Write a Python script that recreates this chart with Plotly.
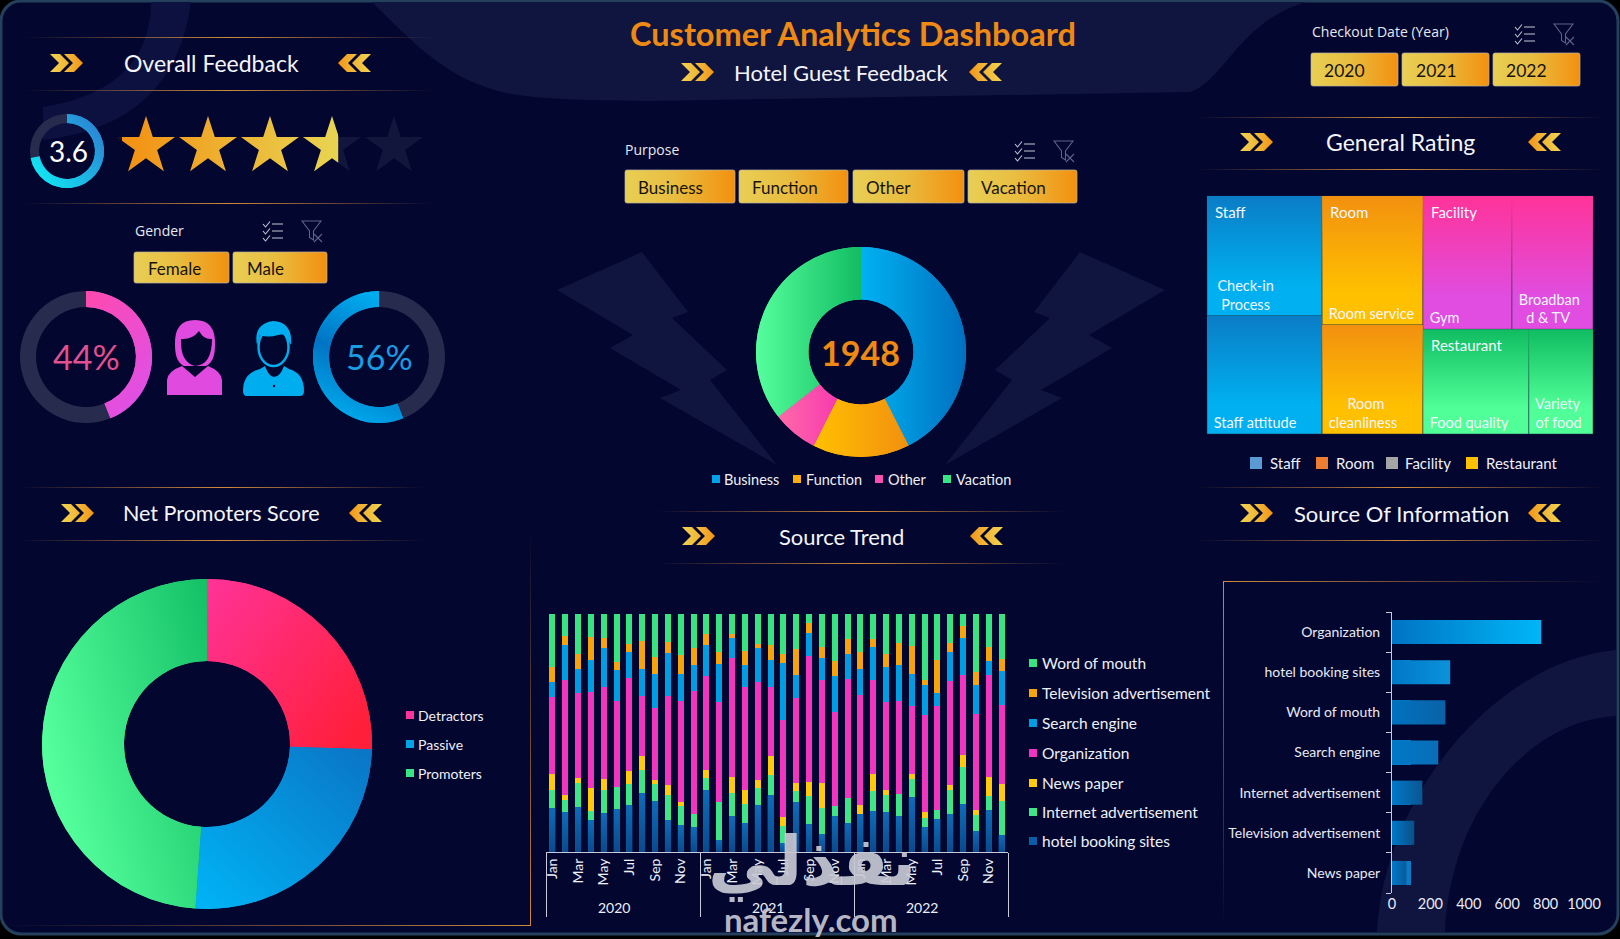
import base64
import math
import plotly.graph_objects as go

W, H = 1620, 939

# values
months = ['Jan', 'Feb', 'Mar', 'Apr', 'May', 'Jun', 'Jul', 'Aug', 'Sep', 'Oct', 'Nov', 'Dec']
years = ['2020', '2021', '2022']

# relative height of each stack part per month, drawn with barnorm percent
word_of_mouth = [159, 66, 120, 69, 72, 144, 90, 81, 129, 84, 123, 102, 60, 114, 60, 111, 90, 94, 120, 105, 27, 99, 141, 75, 114, 75, 120, 87, 96, 198, 138, 87, 36, 174, 99, 135]
television = [46, 28, 45, 69, 30, 24, 24, 85, 51, 34, 57, 51, 34, 36, 12, 42, 12, 44, 27, 78, 30, 33, 45, 45, 51, 24, 39, 66, 84, 15, 99, 27, 36, 39, 42, 36]
search_engine = [45, 104, 73, 96, 117, 93, 78, 80, 102, 128, 81, 79, 92, 114, 60, 66, 102, 81, 171, 69, 69, 66, 108, 75, 78, 99, 105, 108, 96, 90, 39, 87, 111, 87, 42, 102]
organization = [230, 344, 254, 288, 276, 258, 279, 180, 216, 267, 303, 368, 282, 300, 357, 309, 294, 207, 290, 255, 378, 309, 282, 357, 330, 282, 264, 279, 204, 291, 312, 312, 240, 288, 306, 237]
news_paper = [46, 14, 15, 69, 31, 0, 39, 42, 12, 30, 12, 0, 24, 0, 48, 42, 24, 57, 28, 24, 42, 75, 0, 0, 27, 51, 15, 0, 15, 17, 0, 15, 36, 15, 57, 51]
internet = [56, 38, 72, 27, 71, 66, 63, 69, 51, 75, 57, 39, 36, 114, 69, 57, 51, 60, 51, 33, 84, 78, 30, 75, 0, 60, 51, 66, 54, 28, 27, 72, 111, 48, 42, 102]
hotel_sites = [131, 119, 134, 95, 116, 128, 140, 176, 152, 95, 80, 74, 185, 35, 107, 86, 140, 170, 26, 149, 83, 53, 107, 86, 113, 122, 119, 107, 164, 74, 98, 113, 143, 62, 125, 50]

source_names = ['Organization', 'hotel booking sites', 'Word of mouth', 'Search engine', 'Internet advertisement', 'Television advertisement', 'News paper']
source_totals = [777, 303, 278, 241, 158, 116, 75]

rating = 3.6
rating_max = 5
gender_names = ['Female', 'Male']
gender_pct = [44, 56]

purpose_names = ['Business', 'Function', 'Other', 'Vacation']
purpose_counts = [828, 291, 136, 693]

nps_names = ['Detractors', 'Passive', 'Promoters']
nps_counts = [497, 499, 952]

rating_groups = ['Staff', 'Room', 'Facility', 'Restaurant']
# nbsp keeps the cell labels off the tile edge, as in the original
rating_labels = [
	['\u00a0\u00a0Check-in<br>\u00a0\u00a0\u00a0Process', '\u00a0Staff attitude'],
	['\u00a0Room service', '\u00a0\u00a0\u00a0\u00a0\u00a0\u00a0Room<br>\u00a0cleanliness'],
	['\u00a0Gym', '\u00a0Broadban<br>\u00a0\u00a0\u00a0d & TV'],
	['\u00a0Food quality', '\u00a0Variety<br>\u00a0of food'],
]
rating_values = [[1245, 1225], [1172, 991], [1071, 974], [999, 605]]

BG = '#03062f'
TRACK = '#272c4f'
FONT = 'Lato'


def px_x(x):
	return x / W


def px_y(y):
	return 1 - y / H


fig = go.Figure()
annotations = []


def note(x, y, text, size=14, color='#ffffff', anchor='left', family=FONT):
	annotations.append(dict(x=px_x(x), y=px_y(y), xref='paper', yref='paper', text=text, showarrow=False,
		xanchor=anchor, yanchor='middle', font=dict(family=family, size=size, color=color)))


# svg helpers for the dressing around the charts
defs = []
above = []
grad_count = [0]


def grad(stops, x1=0, y1=0, x2=1, y2=0, user=False):
	grad_count[0] += 1
	name = 'g%d' % grad_count[0]
	units = ' gradientUnits="userSpaceOnUse"' if user else ''
	body = ''.join('<stop offset="%s" stop-color="%s" stop-opacity="%s"/>' % (o, c, a) for o, c, a in stops)
	defs.append('<linearGradient id="%s" x1="%s" y1="%s" x2="%s" y2="%s"%s>%s</linearGradient>' % (name, x1, y1, x2, y2, units, body))
	return 'url(#%s)' % name


def rule(x0, x1, y):
	fill = grad([(0, '#c8853a', 0), (0.5, '#d08a3c', 1), (1, '#c8853a', 0)])
	above.append('<rect x="%s" y="%s" width="%s" height="1" fill="%s"/>' % (x0, y, x1 - x0, fill))


def chevrons(x, y, flip=False):
	# x, y = top left of a 33 x 18 pair
	one = 'M{0},{1} h10 l9,9 l-9,9 h-10 l9,-9 z'
	one_left = 'M{0},{1} h-10 l-9,9 l9,9 h10 l-9,-9 z'
	if not flip:
		above.append('<path d="%s" fill="%s"/>' % (one.format(x, y), grad([(0, '#f2d452', 1), (1, '#f0b232', 1)])))
		above.append('<path d="%s" fill="%s"/>' % (one.format(x + 14, y), grad([(0, '#f2c040', 1), (1, '#f39416', 1)])))
	else:
		above.append('<path d="%s" fill="%s"/>' % (one_left.format(x + 19, y), grad([(0, '#f39416', 1), (1, '#f2c040', 1)])))
		above.append('<path d="%s" fill="%s"/>' % (one_left.format(x + 33, y), grad([(0, '#f0b232', 1), (1, '#f2d452', 1)])))


def heading(text, x, y, x_left, x_right, size=23):
	note(x, y, text, size=size, color='#f4f5fb', anchor='center')
	chevrons(x_left, y - 9)
	chevrons(x_right, y - 9, True)


def button(x0, x1, y0, y1, text, text_x, size=17):
	fill = grad([(0, '#e8cf54', 1), (0.45, '#e9bd40', 1), (1, '#f3900f', 1)])
	above.append('<rect x="%s" y="%s" width="%s" height="%s" rx="2" fill="%s" stroke="#b9b6a6" stroke-width="0.7"/>' % (x0, y0, x1 - x0, y1 - y0, fill))
	note(text_x, (y0 + y1) / 2 + 1, text, size=size, color='#17130c')


def slicer_icons(x, y):
	# check list
	for i in range(3):
		yy = y + 1 + i * 7
		above.append('<path d="M%s,%s l2.5,3 l4.5,-5.5 M%s,%s h11" stroke="#c4c7d4" stroke-width="1.1" fill="none"/>' % (x, yy + 2, x + 9, yy + 2))
	# cleared funnel
	fx = x + 39
	above.append('<path d="M%s,%s h19 l-7.5,10 v9 l-4,-2.5 v-6.5 z M%s,%s l8,8 M%s,%s l-8,8" stroke="#5d6385" stroke-width="1.1" fill="none"/>' % (fx, y, fx + 12, y + 13, fx + 20, y + 13))


def star_path(cx, cy, r):
	pts = []
	for i in range(10):
		rad = r if i % 2 == 0 else r * 0.382
		a = math.pi * i / 5
		pts.append('%.1f,%.1f' % (cx + rad * math.sin(a), cy - rad * math.cos(a)))
	return 'M' + ' L'.join(pts) + ' Z'


def sector(cx, cy, r0, r1, a0, a1):
	p = lambda r, a: '%.2f,%.2f' % (cx + r * math.sin(a), cy - r * math.cos(a))
	big = 1 if abs(a1 - a0) > math.pi else 0
	return 'M%s A%s,%s 0 %d 1 %s L%s A%s,%s 0 %d 0 %s Z' % (p(r1, a0), r1, r1, big, p(r1, a1), p(r0, a1), r0, r0, big, p(r0, a0))


def donut(cx, cy, r1, r0, values, names, colors, shades):
	fig.add_trace(go.Pie(labels=names, values=values, hole=r0 / r1, sort=False, direction='clockwise',
		rotation=0, textinfo='none', hoverinfo='label+value', showlegend=False,
		marker=dict(colors=colors, line=dict(width=0)),
		domain=dict(x=[px_x(cx - r1), px_x(cx + r1)], y=[px_y(cy + r1), px_y(cy - r1)])))
	total = sum(values)
	a = 0
	for v, shade in zip(values, shades):
		step = 2 * math.pi * v / total
		if shade:
			above.append('<path d="%s" fill="%s"/>' % (sector(cx, cy, r0, r1, a, a + step), shade))
		a += step


# top level numbers
note(853, 33, '<b>Customer Analytics Dashboard</b>', size=32.5, color='#ee8a14', anchor='center')
heading('Hotel Guest Feedback', 841, 72, 681, 969, size=22)
heading('Overall Feedback', 211, 63, 50, 338)
heading('Net Promoters Score', 221, 513, 61, 349, size=21.5)
heading('Source Trend', 842, 536, 682, 970, size=22)
heading('General Rating', 1400, 142, 1240, 1528)
heading('Source Of Information', 1401, 513, 1240, 1528, size=22)

for x0, x1, y in [(24, 434, 37), (24, 434, 90), (24, 434, 203), (18, 425, 487), (18, 425, 540), (657, 1064, 511), (657, 1064, 563),
		(1196, 1605, 117), (1196, 1605, 169), (1196, 1605, 487), (1196, 1605, 540)]:
	rule(x0, x1, y)

# panel corners
above.append('<rect x="530" y="527" width="1" height="398" fill="%s"/>' % grad([(0, '#c8853a', 0), (1, '#d08a3c', 1)], 0, 0, 0, 1))
above.append('<rect x="0" y="925" width="531" height="1" fill="%s"/>' % grad([(0, '#c8853a', 0), (1, '#d08a3c', 1)]))
above.append('<rect x="1223" y="581" width="380" height="1" fill="%s"/>' % grad([(0, '#d08a3c', 1), (1, '#c8853a', 0)]))
above.append('<rect x="1223" y="581" width="1" height="344" fill="%s"/>' % grad([(0, '#d08a3c', 1), (1, '#c8853a', 0)], 0, 0, 0, 1))

# stars and gauge
star_cx = [146, 208, 270, 332, 394]
for cx in star_cx:
	above.append('<path d="%s" fill="#12163c"/>' % star_path(cx, 146.5, 30.5))
clip_x = 115 + 310 * rating / rating_max
defs.append('<clipPath id="starclip"><rect x="122" y="100" width="%.1f" height="90"/></clipPath>' % (clip_x - 122))
star_fill = grad([(0, '#f39012', 1), (1, '#e8d552', 1)], 122, 0, clip_x, 0, True)
for cx in star_cx:
	above.append('<path d="%s" fill="%s" clip-path="url(#starclip)"/>' % (star_path(cx, 146.5, 30.5), star_fill))

donut(67, 151, 37, 28, [rating, rating_max - rating], ['Rating', 'Rest'], ['#1a9ee0', TRACK],
	[grad([(0, '#0df4f8', 1), (1, '#2a86d4', 1)], 0, 1, 1, 0.3), None])
note(68, 151, str(rating), size=28, anchor='center')

# gender
note(133, 230, 'Gender', size=14, color='#e8e9f0', family='Open Sans')
slicer_icons(263, 221)
button(134, 229, 252, 283, gender_names[0], 146)
button(233, 327, 252, 283, gender_names[1], 245)

donut(86, 357, 66, 50, [gender_pct[0], gender_pct[1]], ['Female', 'Male'], ['#ea4fd0', TRACK],
	[grad([(0, '#ff4aae', 1), (1, '#df50e6', 1)], 0, 0, 0.6, 1), None])
# the male ring runs anticlockwise from the top, so its empty part comes first
donut(379, 357, 66, 50, [gender_pct[0], gender_pct[1]], ['Female', 'Male'], [TRACK, '#0090d8'],
	[None, grad([(0, '#00aef0', 1), (0.5, '#0074c4', 1), (1, '#00aef0', 1)], 0.3, 1, 0.6, 0)])
note(86, 357, '%d%%' % gender_pct[0], size=34, color='#e2508f', anchor='center')
note(379, 357, '%d%%' % gender_pct[1], size=34, color='#1a9ce2', anchor='center')

# people icons
above.append('<path d="M175,345 Q174,320 195,320 Q216,320 215,345 Q215,362 206,366 L184,366 Q175,362 175,345 Z" fill="#e04adf"/>')
above.append('<path d="M181,339 Q192,340 199,331 Q204,340 212,339 Q212,365 195,366 Q180,362 181,339 Z" fill="%s"/>' % BG)
above.append('<path d="M167,395 V380 Q168,371 182,366 L195,377 L208,366 Q221,371 222,380 V395 Z" fill="#e04adf"/>')
above.append('<ellipse cx="273.5" cy="347" rx="15" ry="19" fill="%s" stroke="#00aef0" stroke-width="2.4"/>' % BG)
above.append('<path d="M257,345 Q253,324 273,321 Q293,322 291,345 L288,340 Q286,333 278,335 Q268,338 260,335 Z" fill="#00aef0"/>')
above.append('<path d="M243,391 Q243,373 260,369 L265,366 Q269,377 274,377 Q280,377 284,366 L289,369 Q304,373 304,391 Q304,396 300,396 H247 Q243,396 243,391 Z" fill="#00aef0"/>')
above.append('<circle cx="274" cy="386" r="1.2" fill="%s"/>' % BG)

# purpose
note(623, 149, 'Purpose', size=14, color='#e8e9f0', family='Open Sans')
slicer_icons(1015, 141)
for (x0, x1), name, text_x in zip([(625, 735), (739, 848), (853, 964), (968, 1077)], purpose_names, [636, 750, 864, 979]):
	button(x0, x1, 170, 203, name, text_x)

donut(861, 352, 105, 52.5, purpose_counts, purpose_names, ['#0094dc', '#fbab0c', '#fb4fa8', '#38e080'], [
	grad([(0, '#00b2f2', 1), (1, '#0070c0', 1)]),
	grad([(0, '#ffc000', 1), (1, '#f2900f', 1)]),
	grad([(0, '#ff6aa8', 1), (1, '#f73ab0', 1)]),
	grad([(0, '#55ff9c', 1), (1, '#12bc62', 1)]),
])
note(861, 352, '<b>%d</b>' % sum(purpose_counts), size=34, color='#ee8a14', anchor='center')

legend_colors = ['#00a2e8', '#fdae0c', '#fb4fb0', '#38e584']
for name, color, sq_x, tx in zip(purpose_names, legend_colors, [712, 793, 875, 943], [722, 804, 886, 954]):
	above.append('<rect x="%s" y="475" width="8" height="8" fill="%s"/>' % (sq_x, color))
	note(tx, 479, name, size=14.5, color='#eef0f8')

# net promoters
donut(207, 744, 165, 83, nps_counts, nps_names, ['#ff2e78', '#0094dc', '#38e080'], [
	grad([(0, '#ff3399', 1), (1, '#ff1f3a', 1)], 0, 0, 1, 0.8),
	grad([(0, '#00b4f6', 1), (1, '#0a74c4', 1)], 0, 1, 1, 0),
	grad([(0, '#55ff9c', 1), (1, '#14c066', 1)], 0, 0.5, 1, 0),
])
for name, color, y in zip(nps_names, ['#ff3399', '#00a2e8', '#38e584'], [715, 744, 773]):
	above.append('<rect x="406" y="%s" width="8" height="8" fill="%s"/>' % (y - 4, color))
	note(416, y, name, size=14, color='#eef0f8')

# source trend, stacked per month
x_years = [y for y in years for _ in months]
x_months = [m for _ in years for m in months]
stack = [
	('hotel booking sites', hotel_sites, '#0b5ca6'),
	('Internet advertisement', internet, '#3fe687'),
	('News paper', news_paper, '#ffca0a'),
	('Organization', organization, '#f235c0'),
	('Search engine', search_engine, '#009de2'),
	('Television advertisement', television, '#f6a40c'),
	('Word of mouth', word_of_mouth, '#38e380'),
]
for name, values, color in stack:
	fig.add_trace(go.Bar(x=[x_years, x_months], y=values, name=name, marker=dict(color=color, line=dict(width=0)), showlegend=False))

# bottom part darkens towards the axis
hotel_fill = grad([(0, '#0d6cb8', 1), (1, '#0a4a8c', 1)], 0, 0, 0, 1)
for i, v in enumerate(hotel_sites):
	h = 238 * v / sum(s[1][i] for s in stack)
	above.append('<rect x="%.1f" y="%.1f" width="6" height="%.1f" fill="%s"/>' % (546 + (i + 0.5) * 462 / 36 - 3, 852 - h, h, hotel_fill))

legend_y = [663, 693, 723, 753, 783, 812, 841]
for (name, values, color), y in zip(reversed(stack), legend_y):
	above.append('<rect x="1029" y="%s" width="8" height="8" fill="%s"/>' % (y - 4, color))
	note(1040, y, name, size=15.5, color='#eef0f8')

# source of information
bar_colors = [('#0074c4', '#00b6f7'), ('#0078c8', '#0b92da'), ('#0072c0', '#0a62a6'), ('#0078c8', '#0a6db6'),
	('#0078c8', '#0a5692'), ('#0078c8', '#0a4f88'), ('#0078c8', '#0a5a9a')]
bar_y = list(range(len(source_names)))
fig.add_trace(go.Bar(x=source_totals, y=bar_y, orientation='h', width=0.6, xaxis='x2', yaxis='y2', showlegend=False,
	marker=dict(color='#0a7cc6', line=dict(width=0)), name='Source'))
for i, v in enumerate(source_totals):
	fig.add_trace(go.Scatter(x=[0, v, v, 0, 0], y=[i - 0.3, i - 0.3, i + 0.3, i + 0.3, i - 0.3], xaxis='x2', yaxis='y2', mode='lines',
		line=dict(width=0), fill='toself', hoverinfo='skip', showlegend=False,
		fillgradient=dict(type='horizontal', colorscale=[[0, bar_colors[i][0]], [1, bar_colors[i][1]]])))

# general rating, one treemap per group so the columns sit like the original
tm_x, tm_y, tm_w, tm_h = 1207, 196, 386, 238
group_totals = [sum(v) for v in rating_values]
grand = sum(group_totals)
staff_w = tm_w * group_totals[0] / grand
room_w = tm_w * group_totals[1] / grand
right_w = tm_w - staff_w - room_w
fac_h = tm_h * group_totals[2] / (group_totals[2] + group_totals[3])
tiles = [
	(tm_x, tm_y, staff_w, tm_h),
	(tm_x + staff_w, tm_y, room_w, tm_h),
	(tm_x + staff_w + room_w, tm_y, right_w, fac_h),
	(tm_x + staff_w + room_w, tm_y + fac_h, right_w, tm_h - fac_h),
]
tile_colors = [('#00b0f0', '#0a7dc6'), ('#ffc000', '#f2900f'), ('#e04de0', '#ff3399'), ('#50ff98', '#0fbc60')]
for i, (x, y, w, h) in enumerate(tiles):
	fig.add_trace(go.Treemap(labels=rating_labels[i], parents=['', ''], values=rating_values[i], branchvalues='remainder', sort=True,
		textinfo='label', textposition='bottom left', textfont=dict(family=FONT, size=14.5, color='#f2f6ff'), hoverinfo='label+value',
		tiling=dict(packing='squarify', pad=0), pathbar=dict(visible=False),
		marker=dict(colors=[tile_colors[i][0]] * 2, pad=dict(t=0, l=0, r=0, b=0), line=dict(width=0.5, color='#20283f')),
		domain=dict(x=[px_x(x), px_x(x + w)], y=[px_y(y + h), px_y(y)])))
	note(x + 6, y + 16, rating_groups[i], size=15, color='#f2f6ff')
	# each cell goes from the darker tone at its top into the base colour
	share = rating_values[i][0] / sum(rating_values[i])
	shade = grad([(0, tile_colors[i][1], 1), (0.75, tile_colors[i][1], 0)], 0, 0, 0, 1)
	if i < 2:
		cells = [(x, y, w, h * share), (x, y + h * share, w, h * (1 - share))]
	else:
		cells = [(x, y, w * share, h), (x + w * share, y, w * (1 - share), h)]
	for cx, cy, cw, ch in cells:
		above.append('<rect x="%.1f" y="%.1f" width="%.1f" height="%.1f" fill="%s"/>' % (cx, cy, cw, ch, shade))

for name, color, sq_x, tx in zip(rating_groups, ['#5b9bd5', '#ed7d31', '#a5a5a5', '#ffc000'], [1250, 1316, 1386, 1466], [1268, 1334, 1403, 1484]):
	above.append('<rect x="%s" y="457" width="12" height="12" fill="%s"/>' % (sq_x, color))
	note(tx, 463, name, size=15, color='#eef0f8')

# year slicer
note(1310, 32, 'Checkout Date (Year)', size=14, color='#e8e9f0', family='Open Sans')
slicer_icons(1515, 24)
for (x0, x1), name, text_x in zip([(1311, 1398), (1402, 1489), (1493, 1580)], years, [1322, 1414, 1504]):
	button(x0, x1, 53, 86, name, text_x, size=17.5)

# nafezly mark over the bottom of the chart
note(812, 862, '<b>نفذلي</b>', size=68, color='rgba(200,201,212,0.92)', anchor='center', family='DejaVu Sans')
note(811, 919, '<b>nafezly.com</b>', size=33, color='rgba(200,201,212,0.92)', anchor='center')

# page background: frame, header blob, arcs and the two bolts
left_bolt = [(557, 290), (642, 252), (688, 312), (672, 318), (727, 370), (710, 380), (777, 465), (660, 398), (681, 390), (610, 348), (633, 335)]
right_bolt = [(1722 - x, y) for x, y in left_bolt]
bolt = lambda pts: 'M' + ' L'.join('%s,%s' % p for p in pts) + ' Z'
below = [
	'<rect x="1" y="1" width="1617" height="933" rx="20" fill="%s" stroke="#25405c" stroke-width="3"/>' % BG,
	'<path d="M372,2 C410,40 440,70 480,85 C510,97 540,100 650,101 L1190,92 C1225,80 1240,20 1307,2 Z" fill="#101540"/>',
	'<path d="M151,2 Q150,90 43,107 L43,140 Q175,125 191,2 Z" fill="#0d1140"/>',
	'<path d="M1377,932 C1385,790 1500,660 1616,650 L1616,716 C1530,720 1450,810 1445,932 Z" fill="#101540"/>',
	'<path d="%s" fill="#101540"/>' % bolt(left_bolt),
	'<path d="%s" fill="#101540"/>' % bolt(right_bolt),
]


def page(items, extra=''):
	svg = '<svg xmlns="http://www.w3.org/2000/svg" width="%d" height="%d" viewBox="0 0 %d %d"><defs>%s</defs>%s</svg>' % (W, H, W, H, extra, ''.join(items))
	return 'data:image/svg+xml;base64,' + base64.b64encode(svg.encode('utf-8')).decode('ascii')


images = [
	dict(source=page(below), xref='paper', yref='paper', x=0, y=1, sizex=1, sizey=1, xanchor='left', yanchor='top', sizing='stretch', layer='below'),
	dict(source=page(above, ''.join(defs)), xref='paper', yref='paper', x=0, y=1, sizex=1, sizey=1, xanchor='left', yanchor='top', sizing='stretch', layer='above'),
]

fig.update_layout(
	width=W, height=H, margin=dict(l=0, r=0, t=0, b=0, autoexpand=False), paper_bgcolor='#000000', plot_bgcolor='rgba(0,0,0,0)',
	font=dict(family=FONT, color='#eef0f8', size=14), barmode='stack', barnorm='percent', bargap=0.53,
	images=images, annotations=annotations, hovermode='closest',
	xaxis=dict(domain=[px_x(546), px_x(1008)], anchor='y', tickangle=-90, dtick=2, tickfont=dict(size=14, color='#eef0f8'),
		showline=True, linecolor='#c9cbdc', linewidth=1, showgrid=False, ticks='', showdividers=True, dividercolor='#c9cbdc', dividerwidth=1),
	yaxis=dict(domain=[px_y(852), px_y(614)], range=[0, 100], visible=False),
	xaxis2=dict(domain=[px_x(1392), px_x(1584)], anchor='y2', range=[0, 1000], dtick=200, showgrid=False, zeroline=False, ticks='',
		tickfont=dict(size=14.5, color='#e8eaf4')),
	yaxis2=dict(domain=[px_y(893), px_y(612)], anchor='x2', range=[6.5, -0.5], tickvals=bar_y, ticktext=source_names, showgrid=False, zeroline=False,
		showline=True, linecolor='#c9cbdc', ticks='', ticklabelstandoff=8, tickfont=dict(size=14, color='#e8eaf4'),
		minor=dict(tickvals=[i - 0.5 for i in range(len(source_names) + 1)], ticks='outside', ticklen=5, tickcolor='#c9cbdc', showgrid=False)),
)

fig.write_html("out.html", config=dict(displayModeBar=False, responsive=False),
	post_script="document.body.style.margin='0';document.documentElement.style.overflow='hidden';")
